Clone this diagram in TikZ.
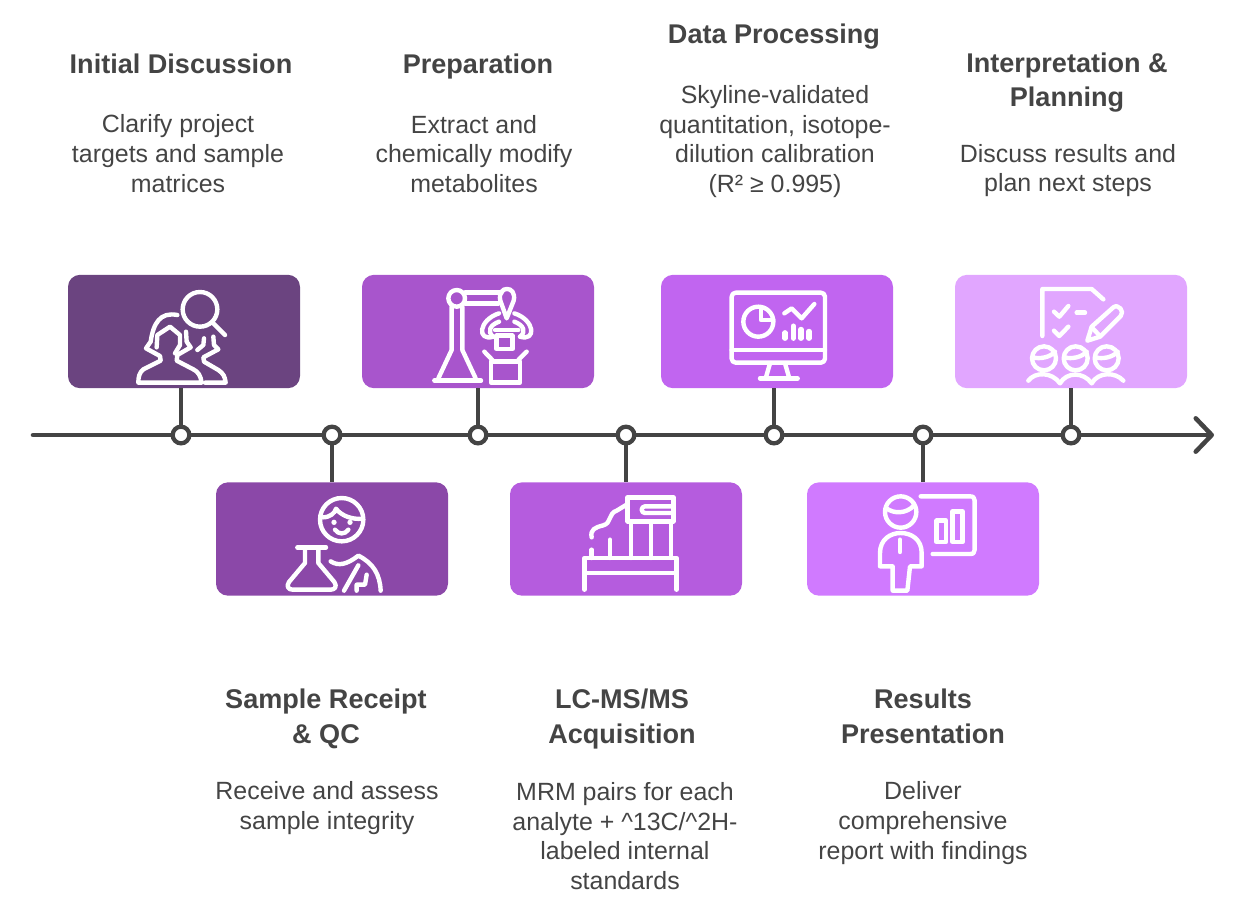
\documentclass[tikz,border=0pt]{standalone}
\usepackage{fontspec}
\setmainfont{Liberation Sans}
\usetikzlibrary{arrows.meta}
\definecolor{inkgray}{HTML}{444444}
\definecolor{cardone}{HTML}{6B4480}
\definecolor{cardtwo}{HTML}{8B48A8}
\definecolor{cardthree}{HTML}{A855CC}
\definecolor{cardfour}{HTML}{B55CDE}
\definecolor{cardfive}{HTML}{C165F0}
\definecolor{cardsix}{HTML}{D07AFF}
\definecolor{cardseven}{HTML}{E1A6FF}
\tikzset{
  card/.style={rectangle,rounded corners=9pt,minimum width=174pt,minimum height=85pt,inner sep=0pt},
  stepdot/.style={circle,draw=inkgray,fill=white,line width=3.2pt,minimum size=12.5pt,inner sep=0pt},
  stem/.style={draw=inkgray,line width=3.2pt},
  headtext/.style={text=inkgray,align=center,font=\fontsize{20.3}{26}\selectfont\bfseries,inner sep=0pt},
  bodytext/.style={text=inkgray,align=center,font=\fontsize{18.7}{22.2}\selectfont,inner sep=0pt},
  icon/.style 2 args={shift={(#1,#2)},x=.25pt,y=-.25pt,white,line width=3.3pt,line cap=round,line join=round}
}
\begin{document}
\begin{tikzpicture}[x=.75pt,y=-.75pt]
  \useasboundingbox (0,0) rectangle (1244,915);
  \coordinate (axisstart) at (33,435);
  \coordinate (axisend) at (1214,435);
  \draw [inkgray,line width=3.4pt,line cap=round,-{Straight Barb[round,length=12pt,width=25pt]}] (axisstart) -- (axisend);

  \node [card,fill=cardone] (discussioncard) at (184,331.5) {};
  \node [card,fill=cardtwo] (receiptcard) at (332,539) {};
  \node [card,fill=cardthree] (preparationcard) at (478,331.5) {};
  \node [card,fill=cardfour] (acquisitioncard) at (626,539) {};
  \node [card,fill=cardfive] (processingcard) at (777,331.5) {};
  \node [card,fill=cardsix] (resultscard) at (923,539) {};
  \node [card,fill=cardseven] (planningcard) at (1071,331.5) {};

  \node [stepdot] (discussiondot) at (181,435) {};
  \node [stepdot] (receiptdot) at (332,435) {};
  \node [stepdot] (preparationdot) at (478,435) {};
  \node [stepdot] (acquisitiondot) at (626,435) {};
  \node [stepdot] (processingdot) at (774,435) {};
  \node [stepdot] (resultsdot) at (923,435) {};
  \node [stepdot] (planningdot) at (1071,435) {};

  \draw [stem] (discussiondot) -- (discussiondot |- discussioncard.south);
  \draw [stem] (receiptdot) -- (receiptdot |- receiptcard.north);
  \draw [stem] (preparationdot) -- (preparationdot |- preparationcard.south);
  \draw [stem] (acquisitiondot) -- (acquisitiondot |- acquisitioncard.north);
  \draw [stem] (processingdot) -- (processingdot |- processingcard.south);
  \draw [stem] (resultsdot) -- (resultsdot |- resultscard.north);
  \draw [stem] (planningdot) -- (planningdot |- planningcard.south);

  \node [headtext] (discussionhead) at (181,64) {Initial Discussion};
  \node [bodytext] (discussionbody) at (178,153.5) {Clarify project\\targets and sample\\matrices};
  \node [headtext] (preparationhead) at (478,66.5) {Preparation};
  \node [bodytext] (preparationbody) at (474,154) {Extract and\\chemically modify\\metabolites};
  \node [headtext] (processinghead) at (774,37) {Data Processing};
  \node [bodytext] (processingbody) at (775,141.5) {Skyline-validated\\quantitation, isotope-\\dilution calibration\\(R² ≥ 0.995)};
  \node [headtext] (planninghead) at (1067,82.5) {Interpretation \&\\Planning};
  \node [bodytext] (planningbody) at (1068,170.5) {Discuss results and\\plan next steps};
  \node [headtext] (receipthead) at (326,719) {Sample Receipt\\\& QC};
  \node [bodytext] (receiptbody) at (327,808) {Receive and assess\\sample integrity};
  \node [headtext] (acquisitionhead) at (622,719) {LC-MS/MS\\Acquisition};
  \node [bodytext] (acquisitionbody) at (625,836) {MRM pairs for each\\analyte + \textasciicircum 13C/\textasciicircum 2H-\\labeled internal\\standards};
  \node [headtext] (resultshead) at (923,716) {Results\\Presentation};
  \node [bodytext] (resultsbody) at (923,823) {Deliver\\comprehensive\\report with findings};

  \begin{scope}[icon={60}{270}]
    \draw (420,118) circle (52);
    \draw (460,160) -- (495,195);
    \draw (352,135) .. controls (300,125) and (280,160) .. (272,215) -- (258,235) -- (300,258) -- (302,272) -- (250,298) .. controls (238,308) and (235,320) .. (235,338) -- (425,338) .. controls (422,318) and (415,305) .. (400,298) -- (350,272) -- (352,255) -- (392,232) -- (380,215) -- (378,185);
    \draw (290,232) -- (292,195) -- (330,170) -- (360,195) -- (360,225) -- (345,250);
    \draw (432,205) -- (430,225) -- (412,240);
    \draw (460,200) -- (462,225) -- (475,238) -- (430,262) -- (432,275) -- (475,300) .. controls (490,310) and (495,320) .. (497,338) -- (435,338);
  \end{scope}

  \begin{scope}[icon={355}{270}]
    \draw (305,85) circle (25);
    \draw (330,68) -- (440,68);
    \draw (330,100) -- (430,100);
    \draw (290,110) -- (290,240) -- (250,325);
    \draw (322,110) -- (322,240) -- (362,325);
    \draw (238,332) -- (378,332);
    \draw (455,145) -- (436,92) .. controls (425,45) and (487,45) .. (476,92) -- cycle;
    \draw (432,130) .. controls (370,150) and (365,215) .. (415,200);
    \draw (478,130) .. controls (540,150) and (545,215) .. (495,200);
    \draw (432,155) .. controls (405,165) and (395,185) .. (415,200);
    \draw (478,155) .. controls (505,165) and (515,185) .. (495,200);
    \draw (420,180) -- (490,180);
    \draw (425,197) rectangle (472,237);
    \draw (408,275) rectangle (495,338);
    \draw (388,245) -- (412,270);
    \draw (515,245) -- (490,270);
  \end{scope}

  \begin{scope}[icon={655}{270}]
    \draw [rounded corners=3pt] (230,68) rectangle (510,278);
    \draw (230,240) -- (510,240);
    \draw (345,280) -- (332,325);
    \draw (390,280) -- (403,325);
    \draw (315,325) -- (428,325);
    \draw (310,155) circle (45);
    \draw (318,112) -- (318,150) -- (355,150);
    \draw (388,130) -- (410,115) -- (440,145) -- (478,102);
    \draw [line width=3.8pt] (390,188) -- (390,205);
    \draw [line width=3.8pt] (415,168) -- (415,205);
    \draw [line width=3.8pt] (438,178) -- (438,205);
    \draw [line width=3.8pt] (462,184) -- (462,205);
  \end{scope}

  \begin{scope}[icon={950}{270}]
    \draw (277,198) -- (277,57) -- (425,57) -- (460,88);
    \draw (312,125) -- (328,140) -- (355,108);
    \draw (312,182) -- (328,198) -- (355,170);
    \draw (380,128) -- (405,128);
    \draw (412,212) -- (425,170) -- (490,112) .. controls (505,100) and (525,125) .. (512,138) -- (450,200) -- cycle;
    \draw (425,172) -- (450,198);
    \draw (282,265) circle (36);
    \draw (377,265) circle (36);
    \draw (470,265) circle (36);
    \draw (248,262) .. controls (270,268) and (300,262) .. (315,245);
    \draw (343,262) .. controls (365,268) and (395,262) .. (410,245);
    \draw (436,262) .. controls (458,268) and (488,262) .. (503,245);
    \draw (235,332) .. controls (255,305) and (305,305) .. (330,340) .. controls (350,305) and (400,305) .. (425,340) .. controls (445,305) and (495,305) .. (520,332);
  \end{scope}

  \begin{scope}[icon={210}{478}]
    \draw (395,125) circle (65);
    \draw (338,118) .. controls (360,118) and (375,105) .. (378,92) .. controls (395,115) and (430,125) .. (455,122);
    \fill (372,133) circle (8);
    \fill (420,133) circle (8);
    \draw (375,155) .. controls (385,170) and (405,170) .. (415,155);
    \draw (262,208) -- (348,208);
    \draw (285,208) -- (285,255) -- (237,312) .. controls (228,325) and (235,335) .. (248,335) -- (362,335) .. controls (375,335) and (382,325) .. (373,312) -- (325,255) -- (325,208);
    \draw (362,250) .. controls (385,265) and (410,260) .. (445,233) .. controls (490,255) and (510,290) .. (512,338);
    \draw (445,262) -- (402,338);
    \draw (470,290) -- (465,320) -- (440,320) -- (440,338);
  \end{scope}

  \begin{scope}[icon={505}{478}]
    \draw (368,58) rectangle (505,130);
    \draw (505,85) -- (420,85) arc (-90:-270:10) -- (505,105);
    \draw (378,130) -- (378,240);
    \draw (438,130) -- (438,240);
    \draw (498,130) -- (498,240);
    \draw (260,178) .. controls (255,155) and (270,148) .. (295,142) .. controls (320,135) and (310,105) .. (335,98) -- (368,78);
    \draw (315,185) -- (315,240);
    \draw (260,215) -- (260,240);
    \draw (238,240) rectangle (515,285);
    \draw (238,285) -- (238,335);
    \draw (515,285) -- (515,335);
  \end{scope}

  \begin{scope}[icon={800}{478}]
    \draw (302,102) circle (47);
    \draw (258,90) .. controls (280,108) and (320,108) .. (342,82);
    \draw (278,265) -- (240,265) -- (240,225) .. controls (240,185) and (270,165) .. (302,165) .. controls (335,165) and (365,185) .. (365,225) -- (365,265) -- (330,265) -- (322,338) -- (278,338) -- cycle;
    \draw (300,185) -- (300,222);
    \draw (362,55) -- (510,55) .. controls (520,55) and (524,60) .. (524,68) -- (524,215) .. controls (524,224) and (520,228) .. (510,228) -- (398,228);
    \draw (410,128) rectangle (438,192);
    \draw (458,100) rectangle (488,192);
  \end{scope}
\end{tikzpicture}
\end{document}
